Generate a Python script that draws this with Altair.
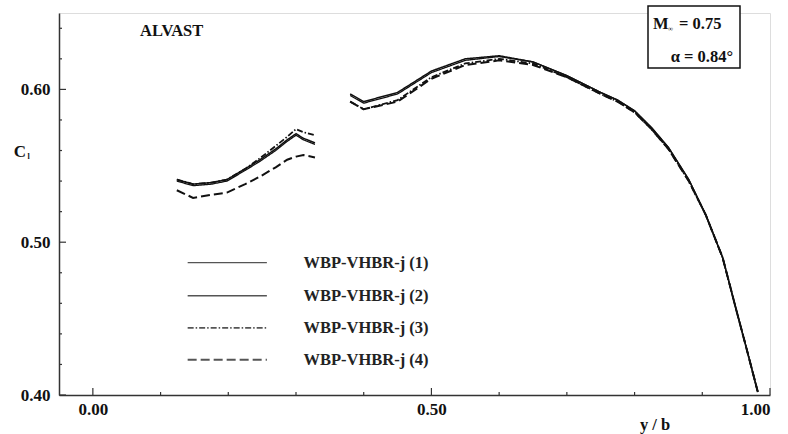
import altair as alt
import pandas as pd

# ---------------- data ----------------
series_names = ["WBP-VHBR-j (1)", "WBP-VHBR-j (2)", "WBP-VHBR-j (3)", "WBP-VHBR-j (4)"]

x_in = [0.124, 0.148, 0.175, 0.198, 0.225, 0.247, 0.270, 0.287, 0.300, 0.311, 0.328]
c1_in = [0.540, 0.537, 0.538, 0.540, 0.547, 0.553, 0.560, 0.566, 0.570, 0.567, 0.564]
c2_in = [0.541, 0.538, 0.539, 0.541, 0.548, 0.554, 0.561, 0.567, 0.571, 0.568, 0.565]
c3_in = [0.541, 0.538, 0.539, 0.541, 0.548, 0.555, 0.563, 0.569, 0.574, 0.572, 0.570]
c4_in = [0.534, 0.529, 0.531, 0.5325, 0.538, 0.543, 0.549, 0.554, 0.556, 0.557, 0.5555]

x_out = [0.380, 0.400, 0.450, 0.500, 0.550, 0.600, 0.650, 0.700, 0.750, 0.775, 0.800,
         0.825, 0.850, 0.880, 0.905, 0.930, 0.950, 0.965, 0.982]
c1_out = [0.596, 0.591, 0.597, 0.611, 0.619, 0.6215, 0.618, 0.609, 0.598, 0.593, 0.586,
          0.575, 0.562, 0.541, 0.518, 0.490, 0.456, 0.431, 0.402]
c2_out = [0.597, 0.592, 0.598, 0.612, 0.620, 0.622, 0.618, 0.609, 0.598, 0.593, 0.586,
          0.575, 0.562, 0.541, 0.518, 0.490, 0.456, 0.431, 0.402]
c3_out = [0.592, 0.587, 0.593, 0.608, 0.617, 0.620, 0.617, 0.608, 0.597, 0.592, 0.585,
          0.574, 0.561, 0.540, 0.518, 0.490, 0.456, 0.431, 0.402]
c4_out = [0.592, 0.587, 0.592, 0.607, 0.616, 0.619, 0.616, 0.608, 0.597, 0.592, 0.585,
          0.574, 0.561, 0.540, 0.518, 0.490, 0.456, 0.431, 0.402]

x_major = [0.0, 0.5, 1.0]
x_minor = [0.1, 0.2, 0.3, 0.4, 0.6, 0.7, 0.8, 0.9]
y_major = [0.40, 0.50, 0.60]
y_minor = [0.42, 0.44, 0.46, 0.48, 0.52, 0.54, 0.56, 0.58, 0.62, 0.64]

# ---------------- tables ----------------
rows = []
for name, cin, cout in zip(series_names, [c1_in, c2_in, c3_in, c4_in],
                           [c1_out, c2_out, c3_out, c4_out]):
    for i, (x, y) in enumerate(zip(x_in, cin)):
        rows.append({"series": name, "seg": "in", "x": x, "y": y, "o": i})
    for i, (x, y) in enumerate(zip(x_out, cout)):
        rows.append({"series": name, "seg": "out", "x": x, "y": y, "o": i})
df = pd.DataFrame(rows)

legend_y = [0.4866, 0.465, 0.444, 0.423]
leg = pd.DataFrame({"series": series_names, "y": legend_y,
                    "x1": [0.14] * 4, "x2": [0.257] * 4, "xt": [0.311] * 4})

FONT = "Liberation Serif, Times New Roman, serif"
xs = alt.Scale(domain=[-0.05, 1.0], nice=False, zero=False)
ys = alt.Scale(domain=[0.40, 0.65], nice=False, zero=False)
dash_scale = alt.Scale(domain=series_names, range=[[1, 0], [1, 0], [6, 2, 1.5, 2], [9, 4]])
width_scale = alt.Scale(domain=series_names, range=[1.3, 2.0, 1.3, 1.3])

W, H = 711, 382

axis_common = dict(tickSize=0, grid=False, title=None, domainColor="#333", domainWidth=1.5,
                   labelFont=FONT, labelFontWeight="bold", labelFontSize=17, labelColor="#111",
                   format=".2f")
x_axis = alt.Axis(values=x_major, labelPadding=6, **axis_common)
y_axis = alt.Axis(values=y_major, labelPadding=9, **axis_common)

lines = alt.Chart(df).mark_line(color="#111", clip=True).encode(
    x=alt.X("x:Q", scale=xs, axis=x_axis),
    y=alt.Y("y:Q", scale=ys, axis=y_axis),
    detail=["series:N", "seg:N"],
    order="o:Q",
    strokeDash=alt.StrokeDash("series:N", scale=dash_scale, legend=None),
    strokeWidth=alt.StrokeWidth("series:N", scale=width_scale, legend=None),
)

leg_lines = alt.Chart(leg).mark_rule(color="#555").encode(
    x=alt.X("x1:Q", scale=xs),
    x2="x2:Q",
    y=alt.Y("y:Q", scale=ys),
    strokeDash=alt.StrokeDash("series:N", scale=dash_scale, legend=None),
    strokeWidth=alt.StrokeWidth("series:N", scale=width_scale, legend=None),
)
leg_text = alt.Chart(leg).mark_text(align="left", baseline="middle", font=FONT,
                                    fontWeight="bold", fontSize=16.5, color="#222").encode(
    x=alt.X("xt:Q", scale=xs), y=alt.Y("y:Q", scale=ys), text="series:N")

# inward ticks
xmaj_t = alt.Chart(pd.DataFrame({"v": x_major})).mark_rule(color="#333", strokeWidth=1.2).encode(
    x=alt.X("v:Q", scale=xs), y=alt.value(H), y2=alt.value(H - 7))
xmin_t = alt.Chart(pd.DataFrame({"v": x_minor})).mark_rule(color="#333", strokeWidth=1.2).encode(
    x=alt.X("v:Q", scale=xs), y=alt.value(H), y2=alt.value(H - 3))
ymaj_t = alt.Chart(pd.DataFrame({"v": y_major})).mark_rule(color="#333", strokeWidth=1.2).encode(
    y=alt.Y("v:Q", scale=ys), x=alt.value(0), x2=alt.value(7))
ymin_t = alt.Chart(pd.DataFrame({"v": y_minor})).mark_rule(color="#333", strokeWidth=1.2).encode(
    y=alt.Y("v:Q", scale=ys), x=alt.value(0), x2=alt.value(3))

def txt(s, x, y, size=15, align="left", weight="bold"):
    return alt.Chart(pd.DataFrame({"t": [s]})).mark_text(
        align=align, baseline="middle", font=FONT, fontWeight=weight,
        fontSize=size, color="#111").encode(x=alt.value(x), y=alt.value(y), text="t:N")

L, T = 59, 13
box = alt.Chart(pd.DataFrame({"a": [0]})).mark_rect(
    fill="white", stroke="#111", strokeWidth=1.5).encode(
    x=alt.value(648 - L), x2=alt.value(740 - L), y=alt.value(6 - T), y2=alt.value(68 - T))

annots = [
    txt("ALVAST", 140 - L, 31 - T, size=16.5),
    box,
    txt("M", 653 - L, 24 - T, size=16.5),
    txt("∞", 668 - L, 29 - T, size=7),
    txt("= 0.75", 679 - L, 24 - T, size=16.5),
    txt("α = 0.84°", 733 - L, 57 - T, size=16.5, align="right"),
    txt("C", 20 - L, 152 - T, size=17, align="center"),
    txt("l", 28.5 - L, 157 - T, size=8, align="center"),
    txt("y / b", 655 - L, 425 - T, size=16.5, align="center"),
]

chart = alt.layer(lines, leg_lines, leg_text, xmaj_t, xmin_t, ymaj_t, ymin_t, *annots).properties(
    width=W, height=H,
    autosize=alt.AutoSizeParams(type="none"),
    padding={"left": L, "top": T, "right": 788 - L - W, "bottom": 434 - T - H},
).configure_view(stroke=None).configure(background="white")

chart.save("out.html", embed_options={"renderer": "svg", "actions": False})
